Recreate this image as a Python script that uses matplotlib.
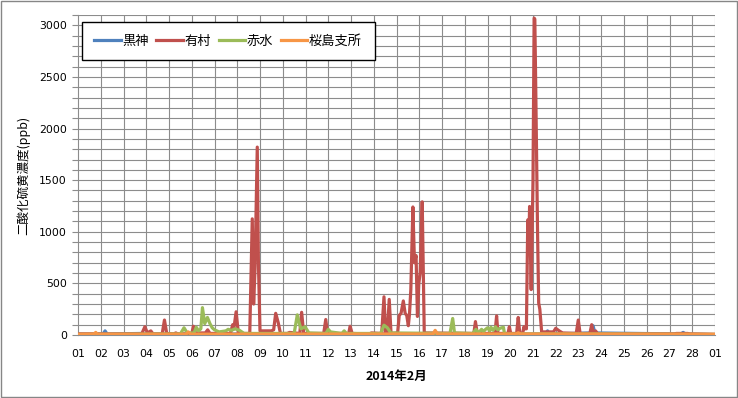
import matplotlib
matplotlib.use("Agg")
import matplotlib.pyplot as plt
from matplotlib.patches import Rectangle

plt.rcParams['font.family'] = ['Noto Sans CJK JP', 'DejaVu Sans']

# Day-of-month positions (29 = 1 March) and SO2 concentrations (ppb)
kurokami_t = [1.0, 2.1, 2.19, 2.28, 3.8, 3.9, 21.55, 21.64, 21.72, 23.55, 23.64, 23.72, 27.5, 27.6, 27.7, 29.0]
kurokami_v = [10, 10, 40, 10, 15, 10, 10, 40, 10, 20, 90, 20, 10, 25, 10, 5]

arimura_t = [1.0, 3.8, 3.94, 4.05, 4.2, 4.3, 4.7, 4.8, 4.9, 5.2, 5.3, 5.4, 6.0, 6.07, 6.15,
             6.6, 6.7, 6.8, 7.7, 7.8, 7.85, 7.95, 8.05, 8.55, 8.66, 8.72, 8.78, 8.88, 8.93,
             9.0, 9.5, 9.6, 9.69, 9.8, 9.9, 10.2, 10.3, 10.75, 10.83, 10.92, 11.8, 11.89,
             11.97, 12.9, 12.96, 13.05, 13.8, 13.9, 14.35, 14.45, 14.52, 14.6, 14.68, 14.76,
             15.05, 15.12, 15.2, 15.3, 15.38, 15.45, 15.52, 15.57, 15.63, 15.72, 15.79,
             15.86, 15.92, 15.98, 16.04, 16.13, 16.22, 18.4, 18.47, 18.55, 19.33, 19.4,
             19.46, 19.9, 19.96, 20.02, 20.28, 20.35, 20.42, 20.55, 20.6, 20.66, 20.71,
             20.77, 20.82, 20.85, 20.92, 21.0, 21.05, 21.08, 21.12, 21.2, 21.25, 21.3,
             21.38, 21.9, 22.0, 22.15, 22.3, 22.9, 22.99, 23.07, 23.5, 23.58, 23.65,
             23.75, 23.85, 27.2, 27.3, 27.8, 27.9, 29.0]
arimura_v = [10, 10, 80, 20, 40, 10, 10, 145, 15, 10, 20, 10, 10, 85, 20,
             20, 50, 15, 15, 100, 60, 225, 15, 15, 1125, 300, 630, 1820, 700,
             40, 40, 50, 210, 120, 15, 15, 25, 15, 220, 15, 15, 150,
             15, 15, 85, 15, 10, 20, 15, 370, 20, 30, 345, 15,
             20, 190, 210, 330, 210, 190, 90, 200, 440, 1240, 700,
             770, 180, 500, 600, 1290, 20, 15, 130, 15, 15, 185,
             15, 15, 80, 15, 15, 170, 15, 20, 80, 60, 60,
             1115, 900, 1245, 440, 1500, 3070, 3060, 2400, 1000, 310, 250,
             30, 30, 65, 40, 20, 15, 145, 15, 15, 100, 15,
             40, 10, 10, 15, 15, 10, 5]

akamizu_t = [1.0, 5.5, 5.66, 5.8, 6.1, 6.2, 6.3, 6.4, 6.47, 6.57, 6.69, 6.8, 6.9, 7.0, 7.2,
             7.5, 7.6, 7.75, 7.9, 8.1, 8.3, 10.5, 10.64, 10.72, 10.8, 10.98, 11.15, 11.9,
             12.0, 12.1, 12.6, 12.7, 12.8, 14.3, 14.45, 14.6, 14.75, 17.35, 17.47, 17.55,
             18.35, 18.49, 18.6, 18.74, 18.82, 18.89, 19.0, 19.1, 19.15, 19.25, 19.35,
             19.45, 19.55, 19.7, 19.75, 23.9, 29.0]
akamizu_v = [5, 10, 70, 20, 20, 75, 40, 60, 265, 110, 170, 110, 70, 50, 30,
             40, 55, 45, 60, 45, 15, 15, 195, 120, 60, 80, 20, 15,
             55, 30, 15, 40, 15, 15, 95, 70, 20, 15, 160, 20,
             15, 55, 20, 55, 30, 50, 70, 40, 75, 45, 80,
             50, 65, 75, 10, 10, 5]

sakurajima_t = [1.0, 1.7, 1.78, 1.85, 5.75, 5.85, 5.95, 16.6, 16.7, 16.8, 20.25, 20.35, 20.45, 29.0]
sakurajima_v = [8, 10, 25, 8, 8, 30, 8, 10, 45, 10, 10, 22, 10, 8]

series_names = ['黒神', '有村', '赤水', '桜島支所']
series_colors = ['#4F81BD', '#C0504D', '#9BBB59', '#F79646']

day_ticks = list(range(1, 30))
day_labels = ['%02d' % d for d in range(1, 29)] + ['01']
y_major = [0, 500, 1000, 1500, 2000, 2500, 3000]

fig = plt.figure(figsize=(7.38, 3.98), dpi=100)
fig.patches.append(Rectangle((0.001, 0.002), 0.997, 0.995, transform=fig.transFigure,
                             fill=False, edgecolor='#868686', linewidth=1.0))
ax = fig.add_axes([78/738, 63/398, 637/738, 320/398])

grid_c = '#8C8C8C'
for y in range(100, 3101, 100):
    ax.axhline(y, color=grid_c, linewidth=0.8, zorder=0)
for d in day_ticks[1:]:
    ax.axvline(d, color=grid_c, linewidth=0.8, zorder=0)

data = [(kurokami_t, kurokami_v), (arimura_t, arimura_v), (akamizu_t, akamizu_v), (sakurajima_t, sakurajima_v)]
for (t, v), name, c in zip(data, series_names, series_colors):
    ax.plot(t, v, color=c, linewidth=2.3, label=name, solid_joinstyle='round', zorder=3)

ax.set_xlim(1, 29)
ax.set_ylim(0, 3100)
ax.set_xticks(day_ticks)
ax.set_xticklabels(day_labels, family='DejaVu Sans', fontsize=7.8)
ax.set_yticks(y_major)
ax.set_yticklabels([str(y) for y in y_major], family='DejaVu Sans', fontsize=7.8)
ax.set_yticks(list(range(0, 3101, 100)), minor=True)
ax.tick_params(axis='x', length=0, pad=10)
ax.tick_params(axis='y', which='both', length=4, color=grid_c, width=0.8, direction='out', pad=4)
for s in ['top', 'right']:
    ax.spines[s].set_visible(False)
for s in ['left', 'bottom']:
    ax.spines[s].set_color(grid_c)
    ax.spines[s].set_linewidth(0.8)

ax.set_xlabel('2014年2月', fontsize=9, fontweight='bold', labelpad=8)
ax.set_ylabel('二酸化硫黄濃度(ppb)', fontsize=9, labelpad=6)

leg = ax.legend(loc='upper left', bbox_to_anchor=(0.006, 0.978), ncol=4, borderaxespad=0,
                fontsize=9.5, handlelength=2.0, handletextpad=0.15, columnspacing=0.55,
                frameon=True, fancybox=False, edgecolor='black', framealpha=1,
                borderpad=0.95)
leg.get_frame().set_linewidth(1.0)

fig.savefig('out.png', dpi=100)
